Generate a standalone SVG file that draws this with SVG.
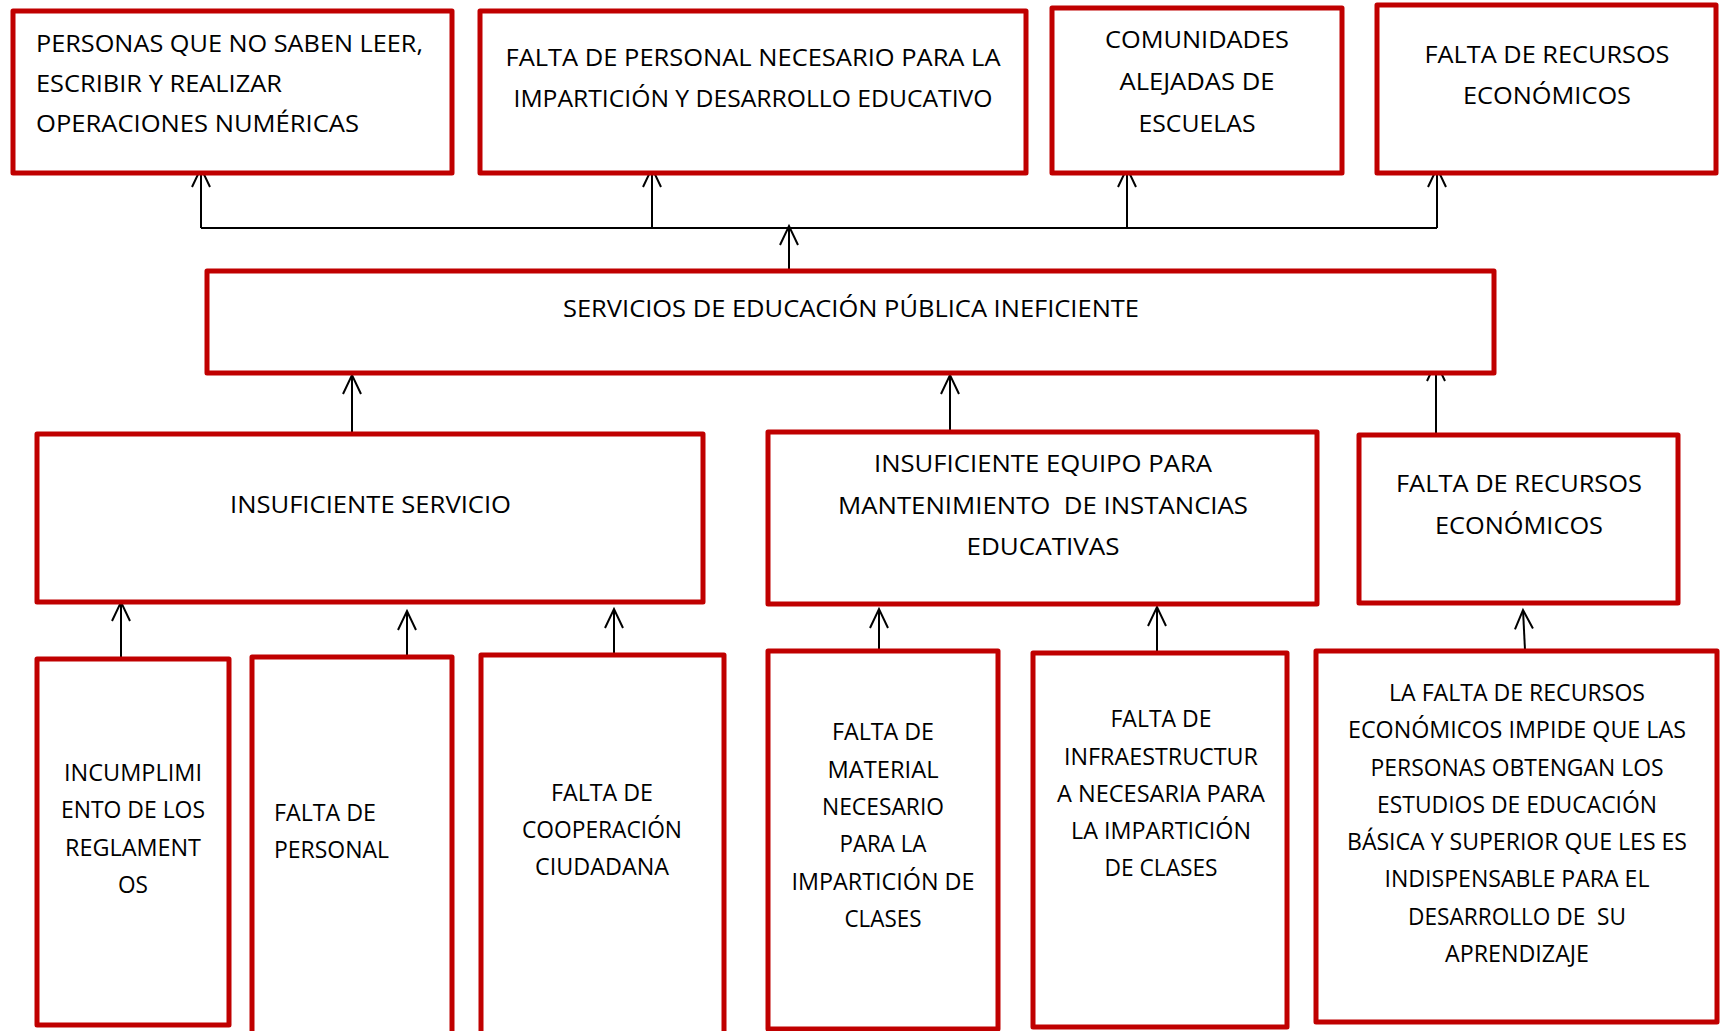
<svg xmlns="http://www.w3.org/2000/svg" width="1720" height="1031" viewBox="0 0 1720 1031">
<style>
.box{fill:#fff;stroke:#C00000;stroke-width:5;stroke-linejoin:round}
.t{font-family:"Open Sans","Noto Sans","DejaVu Sans",sans-serif;font-size:24px;fill:#000;white-space:pre}
.s{font-size:23px}
.m{text-anchor:middle}
.c{fill:none;stroke:#000;stroke-width:2}
</style>
<defs>
<marker id="ah" markerUnits="userSpaceOnUse" markerWidth="24" markerHeight="24" viewBox="-21 -11 24 22" refX="0" refY="0" orient="auto">
<path d="M-19,-9 L0,0 L-19,9" fill="none" stroke="#000" stroke-width="2"/>
</marker>
</defs>
<rect width="1720" height="1031" fill="#fff"/>
<g id="connectors">
<line class="c" x1="201" y1="228" x2="1437" y2="228"/>
<line class="c" x1="201" y1="228" x2="201" y2="168" marker-end="url(#ah)"/>
<line class="c" x1="652" y1="228" x2="652" y2="168" marker-end="url(#ah)"/>
<line class="c" x1="1127" y1="228" x2="1127" y2="168" marker-end="url(#ah)"/>
<line class="c" x1="1437" y1="228" x2="1437" y2="168" marker-end="url(#ah)"/>
<line class="c" x1="789" y1="269" x2="789" y2="226" marker-end="url(#ah)"/>
<line class="c" x1="352" y1="434" x2="352" y2="375" marker-end="url(#ah)"/>
<line class="c" x1="950" y1="432" x2="950" y2="375" marker-end="url(#ah)"/>
<line class="c" x1="1436" y1="434" x2="1436" y2="362" marker-end="url(#ah)"/>
<line class="c" x1="121" y1="659" x2="121" y2="602" marker-end="url(#ah)"/>
<line class="c" x1="407" y1="657" x2="407" y2="611" marker-end="url(#ah)"/>
<line class="c" x1="614" y1="655" x2="614" y2="609" marker-end="url(#ah)"/>
<line class="c" x1="879" y1="653" x2="879" y2="609" marker-end="url(#ah)"/>
<line class="c" x1="1157" y1="653" x2="1157" y2="607" marker-end="url(#ah)"/>
<line class="c" x1="1525" y1="650" x2="1523" y2="610" marker-end="url(#ah)"/>
</g>
<g id="nodeA">
<rect class="box" x="13" y="11" width="439" height="162"/>
<text class="t" x="36" y="52" textLength="387" lengthAdjust="spacingAndGlyphs">PERSONAS QUE NO SABEN LEER,</text>
<text class="t" x="36" y="92" textLength="246" lengthAdjust="spacingAndGlyphs">ESCRIBIR Y REALIZAR</text>
<text class="t" x="36" y="132" textLength="323" lengthAdjust="spacingAndGlyphs">OPERACIONES NUMÉRICAS</text>
</g>
<g id="nodeB">
<rect class="box" x="480" y="11" width="546" height="162"/>
<text class="t m" x="753" y="66" textLength="495" lengthAdjust="spacingAndGlyphs">FALTA DE PERSONAL NECESARIO PARA LA</text>
<text class="t m" x="753" y="107" textLength="479" lengthAdjust="spacingAndGlyphs">IMPARTICIÓN Y DESARROLLO EDUCATIVO</text>
</g>
<g id="nodeC">
<rect class="box" x="1052" y="8" width="290" height="165"/>
<text class="t m" x="1197" y="48" textLength="184" lengthAdjust="spacingAndGlyphs">COMUNIDADES</text>
<text class="t m" x="1197" y="90" textLength="155" lengthAdjust="spacingAndGlyphs">ALEJADAS DE</text>
<text class="t m" x="1197" y="132" textLength="117" lengthAdjust="spacingAndGlyphs">ESCUELAS</text>
</g>
<g id="nodeD">
<rect class="box" x="1377" y="5" width="339" height="168"/>
<text class="t m" x="1547" y="63" textLength="245" lengthAdjust="spacingAndGlyphs">FALTA DE RECURSOS</text>
<text class="t m" x="1547" y="104" textLength="168" lengthAdjust="spacingAndGlyphs">ECONÓMICOS</text>
</g>
<g id="nodeCentral">
<rect class="box" x="207" y="271" width="1287" height="102"/>
<text class="t m" x="851" y="317" textLength="576" lengthAdjust="spacingAndGlyphs">SERVICIOS DE EDUCACIÓN PÚBLICA INEFICIENTE</text>
</g>
<g id="nodeE">
<rect class="box" x="37" y="434" width="666" height="168"/>
<text class="t" x="230" y="513" textLength="281" lengthAdjust="spacingAndGlyphs">INSUFICIENTE SERVICIO</text>
</g>
<g id="nodeF">
<rect class="box" x="768" y="432" width="549" height="172"/>
<text class="t m" x="1043" y="472" textLength="338" lengthAdjust="spacingAndGlyphs">INSUFICIENTE EQUIPO PARA</text>
<text class="t m" x="1043" y="514" textLength="410" lengthAdjust="spacingAndGlyphs" xml:space="preserve">MANTENIMIENTO  DE INSTANCIAS</text>
<text class="t m" x="1043" y="555" textLength="153" lengthAdjust="spacingAndGlyphs">EDUCATIVAS</text>
</g>
<g id="nodeG">
<rect class="box" x="1359" y="435" width="319" height="168"/>
<text class="t m" x="1519" y="492" textLength="246" lengthAdjust="spacingAndGlyphs">FALTA DE RECURSOS</text>
<text class="t m" x="1519" y="534" textLength="168" lengthAdjust="spacingAndGlyphs">ECONÓMICOS</text>
</g>
<g id="nodeH">
<rect class="box" x="37" y="659" width="192" height="366"/>
<text class="t s m" x="133" y="781" textLength="138" lengthAdjust="spacingAndGlyphs">INCUMPLIMI</text>
<text class="t s m" x="133" y="818" textLength="144" lengthAdjust="spacingAndGlyphs">ENTO DE LOS</text>
<text class="t s m" x="133" y="856" textLength="136" lengthAdjust="spacingAndGlyphs">REGLAMENT</text>
<text class="t s m" x="133" y="893" textLength="30" lengthAdjust="spacingAndGlyphs">OS</text>
</g>
<g id="nodeI">
<rect class="box" x="252" y="657" width="200" height="390"/>
<text class="t s" x="274" y="821" textLength="102" lengthAdjust="spacingAndGlyphs">FALTA DE</text>
<text class="t s" x="274" y="858" textLength="115" lengthAdjust="spacingAndGlyphs">PERSONAL</text>
</g>
<g id="nodeJ">
<rect class="box" x="481" y="655" width="243" height="392"/>
<text class="t s m" x="602" y="801" textLength="102" lengthAdjust="spacingAndGlyphs">FALTA DE</text>
<text class="t s m" x="602" y="838" textLength="160" lengthAdjust="spacingAndGlyphs">COOPERACIÓN</text>
<text class="t s m" x="602" y="875" textLength="134" lengthAdjust="spacingAndGlyphs">CIUDADANA</text>
</g>
<g id="nodeK">
<rect class="box" x="768" y="651" width="230" height="378"/>
<text class="t s m" x="883" y="740" textLength="102" lengthAdjust="spacingAndGlyphs">FALTA DE</text>
<text class="t s m" x="883" y="778" textLength="111" lengthAdjust="spacingAndGlyphs">MATERIAL</text>
<text class="t s m" x="883" y="815" textLength="122" lengthAdjust="spacingAndGlyphs">NECESARIO</text>
<text class="t s m" x="883" y="852" textLength="87" lengthAdjust="spacingAndGlyphs">PARA LA</text>
<text class="t s m" x="883" y="890" textLength="183" lengthAdjust="spacingAndGlyphs">IMPARTICIÓN DE</text>
<text class="t s m" x="883" y="927" textLength="77" lengthAdjust="spacingAndGlyphs">CLASES</text>
</g>
<g id="nodeL">
<rect class="box" x="1033" y="653" width="254" height="374"/>
<text class="t s m" x="1161" y="727" textLength="101" lengthAdjust="spacingAndGlyphs">FALTA DE</text>
<text class="t s m" x="1161" y="765" textLength="194" lengthAdjust="spacingAndGlyphs">INFRAESTRUCTUR</text>
<text class="t s m" x="1161" y="802" textLength="208" lengthAdjust="spacingAndGlyphs">A NECESARIA PARA</text>
<text class="t s m" x="1161" y="839" textLength="180" lengthAdjust="spacingAndGlyphs">LA IMPARTICIÓN</text>
<text class="t s m" x="1161" y="876" textLength="113" lengthAdjust="spacingAndGlyphs">DE CLASES</text>
</g>
<g id="nodeM">
<rect class="box" x="1316" y="651" width="401" height="371"/>
<text class="t s m" x="1517" y="701" textLength="256" lengthAdjust="spacingAndGlyphs">LA FALTA DE RECURSOS</text>
<text class="t s m" x="1517" y="738" textLength="338" lengthAdjust="spacingAndGlyphs">ECONÓMICOS IMPIDE QUE LAS</text>
<text class="t s m" x="1517" y="776" textLength="293" lengthAdjust="spacingAndGlyphs">PERSONAS OBTENGAN LOS</text>
<text class="t s m" x="1517" y="813" textLength="280" lengthAdjust="spacingAndGlyphs">ESTUDIOS DE EDUCACIÓN</text>
<text class="t s m" x="1517" y="850" textLength="340" lengthAdjust="spacingAndGlyphs">BÁSICA Y SUPERIOR QUE LES ES</text>
<text class="t s m" x="1517" y="887" textLength="265" lengthAdjust="spacingAndGlyphs">INDISPENSABLE PARA EL</text>
<text class="t s m" x="1517" y="925" textLength="218" lengthAdjust="spacingAndGlyphs" xml:space="preserve">DESARROLLO DE  SU</text>
<text class="t s m" x="1517" y="962" textLength="144" lengthAdjust="spacingAndGlyphs">APRENDIZAJE</text>
</g>
</svg>
